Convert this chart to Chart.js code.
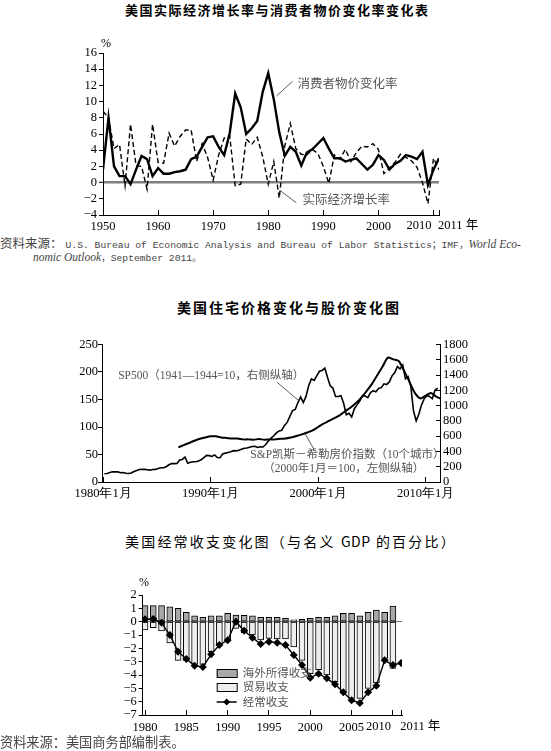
<!DOCTYPE html>
<html>
<head>
<meta charset="utf-8">
<script src="https://cdn.jsdelivr.net/npm/chart.js"></script>
<style>
body{margin:0;background:#fff}
#page{position:relative;width:551px;height:751px;overflow:hidden;background:#fff}
canvas{position:absolute;left:0}
.txt{position:absolute;white-space:nowrap;color:#000}
.ttl{font-family:"Noto Sans CJK SC",sans-serif;font-weight:bold;font-size:13px}
.src{font-family:"Liberation Mono","Noto Sans CJK SC",monospace;font-size:9.7px;color:#444}
.cn{font-family:"Noto Sans CJK SC",sans-serif}
.it{font-family:"Liberation Serif",serif;font-style:italic;font-size:11.5px}
.pct{font-family:"Liberation Serif",serif;font-size:12px}
</style>
</head>
<body>
<div id="page">
<canvas id="c1" width="551" height="200" style="top:30px"></canvas>
<canvas id="c2" width="551" height="175" style="top:330px"></canvas>
<canvas id="c3" width="551" height="170" style="top:570px"></canvas>

<div class="txt ttl" style="left:125px;top:0px;letter-spacing:1.5px">美国实际经济增长率与消费者物价变化率变化表</div>
<div class="txt pct" style="left:101px;top:36px">%</div>
<div class="txt src" style="left:0;top:233px"><span class="cn" style="font-size:12.5px;margin-right:3px">资料来源：</span>U.S. Bureau of Economic Analysis and Bureau of Labor Statistics；IMF，<span class="it">World Eco-</span></div>
<div class="txt src" style="left:33px;top:250px"><span class="it">nomic Outlook</span>，September 2011。</div>

<div class="txt ttl" style="left:177px;top:297px;font-size:14px;letter-spacing:2px">美国住宅价格变化与股价变化图</div>

<div class="txt ttl" style="left:125px;top:531px;font-size:14px;font-weight:normal;letter-spacing:2.2px">美国经常收支变化图（与名义 <span style="letter-spacing:0.5px">GDP</span> 的百分比）</div>
<div class="txt pct" style="left:139px;top:575px">%</div>
<div class="txt cn" style="left:0;top:732px;font-size:13.2px;color:#444">资料来源：美国商务部编制表。</div>
</div>

<script>
// ---------- chart 1: growth vs CPI ----------
const years1=[1950,1951,1952,1953,1954,1955,1956,1957,1958,1959,
1960,1961,1962,1963,1964,1965,1966,1967,1968,1969,
1970,1971,1972,1973,1974,1975,1976,1977,1978,1979,
1980,1981,1982,1983,1984,1985,1986,1987,1988,1989,
1990,1991,1992,1993,1994,1995,1996,1997,1998,1999,
2000,2001,2002,2003,2004,2005,2006,2007,2008,2009,
2010,2011]
const cpiRate=[1.6,8.0,2.0,0.8,0.8,-0.2,1.6,3.3,2.9,0.8,
1.8,1.1,1.1,1.3,1.4,1.6,2.9,3.2,4.4,5.6,
5.7,4.4,3.4,6.1,11.0,9.3,6.0,6.7,7.6,11.2,
13.5,10.3,6.2,3.3,4.4,3.8,2.1,3.7,4.1,4.8,
5.5,4.2,3.0,3.0,2.6,2.8,3.0,2.3,1.6,2.2,
3.4,2.8,1.6,2.3,2.7,3.4,3.2,2.9,3.8,-0.3,
1.6,3.0]
const gdpGrowth=[8.8,8.0,4.2,4.7,-0.4,7.2,2.1,2.0,-0.8,7.2,
2.5,2.4,6.1,4.5,5.7,6.5,6.5,2.6,4.8,3.1,
0.3,3.4,5.5,5.8,-0.4,-0.2,5.4,4.7,5.6,3.2,
-0.2,2.6,-1.9,4.5,7.3,4.2,3.5,3.4,4.1,3.6,
2.0,-0.1,3.4,2.9,4.1,2.6,3.7,4.5,4.4,4.8,
4.1,1.1,1.8,2.5,3.5,3.1,2.7,1.9,0.0,-2.6,
3.0,1.6]
const xTicks1=[1950,1960,1970,1980,1990,2000,2010,2011]
const xLabels1=['1950','1960','1970','1980','1990','2000','2010','2011 年']
const xAlign1=['center','center','center','center','center','center','right','left']
const yTicks1=[-4,-2,0,2,4,6,8,10,12,14,16]

// ---------- chart 2: house prices vs stocks ----------
const spStart=1980 // quarterly values from 1980 Q1
const sp500=[108,112,123,135, 133,132,122,124, 114,112,118,138, 150,164,166,165,
160,155,163,165, 178,187,186,200, 225,242,240,243, 288,295,325,245,
258,265,265,276, 292,318,348,345, 335,355,320,318, 368,378,387,395,
410,408,415,428, 442,446,455,464, 468,452,462,458, 490,535,575,605,
642,668,678,740, 780,860,935,950, 1040,1115,1040,1120, 1260,1350,1330,1390,
1450,1460,1490,1370, 1260,1230,1120,1120, 1130,1030,880,900, 850,960,1010,1060,
1130,1125,1105,1170, 1195,1180,1225,1235, 1285,1275,1310,1390, 1430,1510,1480,1530,
1350,1380,1250,930, 800,890,1010,1090, 1130,1120,1090,1200, 1230]
const csStart=1987 // half-yearly values from Jan 1987
const caseShiller=[63,67, 71,75, 78.5,81, 83,83, 81,80, 79,79, 77.5,77.5, 77,78, 77,77.5,
77.5,78.5, 79,81, 83.5,86.5, 90,94, 100,106, 111,116, 121,128.5, 135,143, 153,165,
178,194, 210,226, 223,220, 202,182, 162,152, 157,162, 155,151]
const xTicks2=[1980,1990,2000,2010]
const xLabels2=['1980年1月','1990年1月','2000年1月','2010年1月']

// ---------- chart 3: current account ----------
const years3=[1980,1981,1982,1983,1984,1985,1986,1987,1988,1989,
1990,1991,1992,1993,1994,1995,1996,1997,1998,1999,
2000,2001,2002,2003,2004,2005,2006,2007,2008,2009,
2010,2011]
const incomeBal=[1.2,1.2,1.2,1.12,1.0,0.7,0.43,0.33,0.43,0.43,
0.63,0.5,0.48,0.43,0.33,0.33,0.33,0.25,0.13,0.18,
0.25,0.33,0.33,0.43,0.63,0.63,0.43,0.7,0.87,0.7,
1.17,null]
const tradeBal=[-0.62,-0.45,-0.7,-1.6,-2.9,-2.9,-3.2,-3.2,-2.25,-1.75,
-1.37,-0.5,-0.83,-1.0,-1.37,-1.25,-1.3,-1.3,-1.9,-2.9,
-3.9,-3.6,-4.0,-4.5,-5.25,-5.75,-5.75,-5.0,-4.6,-2.75,
-3.5,null]
const currentAcc=[0.18,0.2,-0.08,-1.0,-2.25,-2.8,-3.3,-3.4,-2.45,-1.75,
-1.4,0.0,-0.68,-1.2,-1.68,-1.5,-1.58,-1.75,-2.5,-3.25,
-4.2,-3.9,-4.25,-4.7,-5.3,-5.9,-6.1,-5.3,-4.8,-2.9,
-3.25,-3.1]
const xTicks3=[1980,1985,1990,1995,2000,2005,2010,2011]
const xLabels3=['1980','1985','1990','1995','2000','2005','2010','2011 年']
const xAlign3=['center','center','center','center','center','center','right','left']
const yTicks3=[-7,-6,-5,-4,-3,-2,-1,0,1,2]

const numFont={family:'Liberation Serif',size:12.5}
const minus=v=>v<0?'\u2212'+(-v):String(v)

// text notes with leader lines, placed in data units
const notes={
id:'notes',
afterDatasetsDraw(chart,args,opts){
const ctx=chart.ctx
const xs=chart.scales.x, ys=chart.scales[opts.axis||'y']
ctx.save()
opts.items.forEach(n=>{
if(n.line){
ctx.strokeStyle='#333'
ctx.lineWidth=0.8
ctx.beginPath()
ctx.moveTo(xs.getPixelForValue(n.line[0]),ys.getPixelForValue(n.line[1]))
ctx.lineTo(xs.getPixelForValue(n.line[2]),ys.getPixelForValue(n.line[3]))
ctx.stroke()
}
ctx.fillStyle='#555'
ctx.font=opts.font
ctx.textAlign='left'
ctx.textBaseline='middle'
ctx.fillText(n.text,xs.getPixelForValue(n.at[0]),ys.getPixelForValue(n.at[1]))
})
ctx.restore()
}
}

// x tick labels that sit beside their tick instead of centred on it
const sideLabels={
id:'sideLabels',
afterDraw(chart,args,opts){
const ctx=chart.ctx, xs=chart.scales.x
ctx.save()
ctx.fillStyle='#000'
ctx.font=opts.font
ctx.textBaseline='top'
opts.values.forEach((v,i)=>{
if(opts.align[i]==='center') return
ctx.textAlign=opts.align[i]
ctx.fillText(opts.labels[i],xs.getPixelForValue(v)+(opts.align[i]==='right'?-2:-1),xs.top+opts.dy)
})
ctx.restore()
}
}

new Chart(document.getElementById('c1'),{
type:'line',
data:{datasets:[
{label:'消费者物价变化率',data:years1.map((y,i)=>({x:y,y:cpiRate[i]})),borderColor:'#000',borderWidth:2.4,pointRadius:0,tension:0},
{label:'实际经济增长率',data:years1.map((y,i)=>({x:y,y:gdpGrowth[i]})),borderColor:'#000',borderWidth:1.4,borderDash:[5,3],pointRadius:0,tension:0}
]},
options:{
responsive:false,animation:false,
layout:{padding:{left:0,right:112,top:23,bottom:0}},
plugins:{legend:{display:false},tooltip:{enabled:false},
notes:{font:'12.5px "Noto Sans CJK SC"',items:[
{text:'消费者物价变化率',at:[1985.3,12.3],line:[1984.4,12.5,1981.5,10.7]},
{text:'实际经济增长率',at:[1986.2,-2.0],line:[1982.2,-1.0,1985.1,-2.5]}
]},
sideLabels:{font:'12.5px "Liberation Serif","Noto Sans CJK SC"',dy:4,values:xTicks1,labels:xLabels1,align:xAlign1}},
scales:{
x:{type:'linear',min:1950,max:2011,
afterBuildTicks:s=>{s.ticks=xTicks1.map(v=>({value:v}))},
afterFit:s=>{s.height=15},
grid:{drawOnChartArea:false,tickLength:-5,tickColor:'#000',tickWidth:1},
border:{color:'#000',width:1},
ticks:{autoSkip:false,maxRotation:0,padding:9,color:'#000',font:numFont,callback:(v,i)=>xAlign1[i]==='center'?xLabels1[i]:''}},
y:{min:-4,max:16,
afterBuildTicks:s=>{s.ticks=yTicks1.map(v=>({value:v}))},
afterFit:s=>{s.width=103},
grid:{color:c=>c.tick&&c.tick.value===0?'#808080':'rgba(0,0,0,0)',lineWidth:c=>c.tick&&c.tick.value===0?2.5:1,tickColor:'#000',tickWidth:1,tickLength:4},
border:{color:'#000',width:1},
ticks:{autoSkip:false,padding:2,color:'#000',font:numFont,callback:minus}}
}
},
plugins:[notes,sideLabels]
})

new Chart(document.getElementById('c2'),{
type:'line',
data:{datasets:[
{label:'SP500',yAxisID:'y2',data:sp500.map((v,i)=>({x:spStart+(i+0.5)/4,y:v})),borderColor:'#000',borderWidth:1.6,pointRadius:0,tension:0},
{label:'S&P凯斯－希勒房价指数',yAxisID:'y',data:caseShiller.map((v,i)=>({x:csStart+i/2,y:v})),borderColor:'#000',borderWidth:2,pointRadius:0,tension:0.3}
]},
options:{
responsive:false,animation:false,
layout:{padding:{left:0,right:0,top:14,bottom:0}},
plugins:{legend:{display:false},tooltip:{enabled:false},
notes:{font:'11.5px "Liberation Serif","Noto Sans CJK SC"',items:[
{text:'SP500（1941—1944=10，右侧纵轴）',at:[1981.4,193],line:[1996.2,181,1998.2,148]},
{text:'S&P凯斯－希勒房价指数（10个城市）',at:[1993.7,50],line:[1998.7,91,1999.6,60]},
{text:'（2000年1月＝100，左侧纵轴）',at:[1994.9,24]}
]}},
scales:{
x:{type:'linear',min:1979.9,max:2011.34,
afterBuildTicks:s=>{s.ticks=xTicks2.map(v=>({value:v}))},
afterFit:s=>{s.height=23},
grid:{drawOnChartArea:false,tickLength:-5,tickColor:'#000',tickWidth:1},
border:{color:'#000',width:1},
ticks:{autoSkip:false,maxRotation:0,padding:9,color:'#000',font:{family:'Liberation Serif',size:12.5},callback:(v,i)=>xLabels2[i]}},
y:{position:'left',min:0,max:250,
ticks:{stepSize:50,autoSkip:false,padding:0,color:'#000',font:numFont,callback:v=>String(v)},
afterFit:s=>{s.width=102},
grid:{drawOnChartArea:false,tickLength:4,tickColor:'#000'},
border:{color:'#000',width:1}},
y2:{position:'right',min:0,max:1800,
ticks:{stepSize:200,autoSkip:false,padding:7,color:'#000',font:numFont,callback:v=>String(v)},
afterFit:s=>{s.width=111},
grid:{drawOnChartArea:false,tickLength:-4,tickColor:'#000'},
border:{color:'#000',width:1}}
}
},
plugins:[notes]
})

// legend drawn inside the plot area
const legend3={
id:'legend3',
afterDraw(chart){
const ctx=chart.ctx, a=chart.chartArea
const ds=chart.data.datasets
const x=a.left+74
const rows=[a.top+78,a.top+92,a.top+107]
ctx.save()
ctx.font='11.5px "Noto Sans CJK SC"'
ctx.textBaseline='middle'
ctx.textAlign='left'
;[ds[1],ds[2]].forEach((d,i)=>{
ctx.fillStyle=d.backgroundColor
ctx.fillRect(x,rows[i]-4,20,8)
ctx.strokeStyle='#000'
ctx.lineWidth=1
ctx.strokeRect(x+0.5,rows[i]-3.5,20,8)
ctx.fillStyle='#555'
ctx.fillText(d.label,x+26,rows[i])
})
ctx.strokeStyle='#000'
ctx.lineWidth=1.5
ctx.beginPath()
ctx.moveTo(x,rows[2])
ctx.lineTo(x+20,rows[2])
ctx.stroke()
ctx.fillStyle='#000'
ctx.beginPath()
ctx.moveTo(x+10,rows[2]-3.5)
ctx.lineTo(x+13.5,rows[2])
ctx.lineTo(x+10,rows[2]+3.5)
ctx.lineTo(x+6.5,rows[2])
ctx.fill()
ctx.fillStyle='#555'
ctx.fillText(ds[0].label,x+26,rows[2])
ctx.restore()
}
}

new Chart(document.getElementById('c3'),{
type:'bar',
data:{datasets:[
{type:'line',label:'经常收支',data:years3.map((y,i)=>({x:y,y:currentAcc[i]})),borderColor:'#000',borderWidth:1.4,
pointStyle:'rectRot',pointRadius:3,pointBackgroundColor:'#000',pointBorderColor:'#000',tension:0,order:0},
{label:'海外所得收支',data:years3.map((y,i)=>({x:y,y:incomeBal[i]})),backgroundColor:'#a9a9a9',borderColor:'#000',borderWidth:1,borderSkipped:false,barThickness:6,grouped:false,order:1},
{label:'贸易收支',data:years3.map((y,i)=>({x:y,y:tradeBal[i]})),backgroundColor:'#eeeeee',borderColor:'#000',borderWidth:1,borderSkipped:false,barThickness:6,grouped:false,order:2}
]},
options:{
responsive:false,animation:false,
layout:{padding:{left:0,right:149,top:25,bottom:0}},
plugins:{legend:{display:false},tooltip:{enabled:false},
sideLabels:{font:'12.5px "Liberation Serif","Noto Sans CJK SC"',dy:5,values:xTicks3,labels:xLabels3,align:xAlign3}},
scales:{
x:{type:'linear',offset:false,min:1979.72,max:2011.1,
afterBuildTicks:s=>{s.ticks=xTicks3.map(v=>({value:v}))},
afterFit:s=>{s.height=25},
grid:{drawOnChartArea:false,offset:false,tickLength:-5,tickColor:'#000',tickWidth:1},
border:{color:'#000',width:1},
ticks:{autoSkip:false,maxRotation:0,padding:10,color:'#000',font:numFont,callback:(v,i)=>xAlign3[i]==='center'?xLabels3[i]:''}},
y:{min:-7,max:2,
afterBuildTicks:s=>{s.ticks=yTicks3.map(v=>({value:v}))},
afterFit:s=>{s.width=142.7},
grid:{color:c=>c.tick&&c.tick.value===0?'#707070':'rgba(0,0,0,0)',lineWidth:1,tickColor:'#000',tickWidth:1,tickLength:4},
border:{color:'#000',width:1},
ticks:{autoSkip:false,padding:2,color:'#000',font:numFont,callback:minus}}
}
},
plugins:[legend3,sideLabels]
})
</script>
</body>
</html>
